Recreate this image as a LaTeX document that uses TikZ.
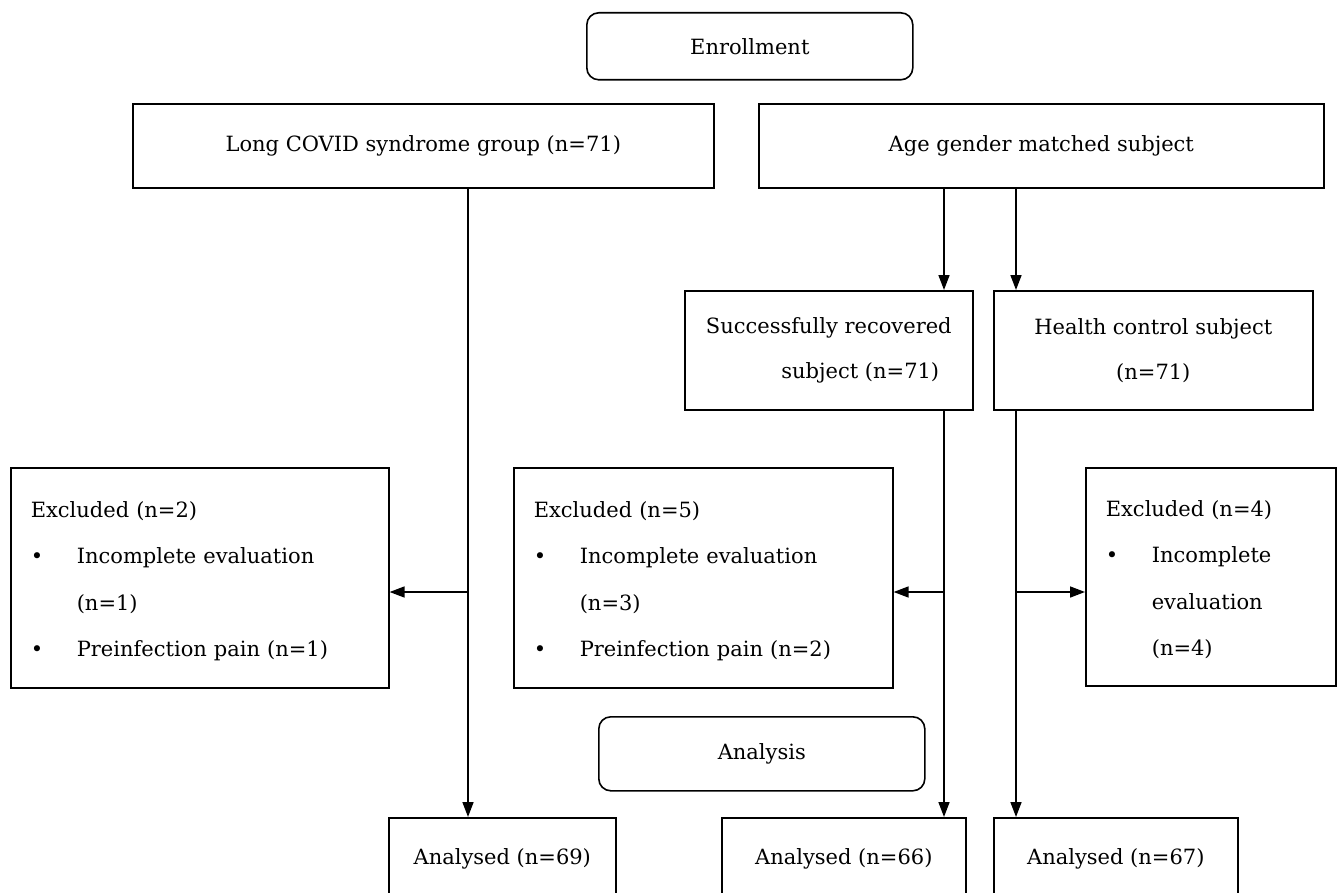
\documentclass[tikz,border=0pt]{standalone}
\usepackage{fontspec}
\setmainfont{DejaVu Serif}
\usepackage{array}
\usetikzlibrary{arrows.meta}
\newcommand\boxfont{\fontsize{21}{26}\selectfont}
\tikzset{
  box/.style={draw, line width=1.6pt, anchor=north west, align=center, inner sep=0pt, font=\boxfont},
  rbox/.style={box, rounded corners=12pt},
  exbox/.style={box, align=left, inner xsep=20pt},
  arr/.style={line width=1.6pt, -{Triangle[length=15pt,width=11pt]}}
}
\newcommand\exlist[1]{\renewcommand\arraystretch{1.77}\begin{tabular}{@{}p{46pt}@{}l@{}}#1\end{tabular}}

\begin{document}
\begin{tikzpicture}[x=1pt, y=-1pt]
\useasboundingbox (0,0) rectangle (1343,893);

\node[rbox, minimum width=326pt, minimum height=67pt] (enroll) at (586,12) {Enrollment};
\node[box, minimum width=581pt, minimum height=84pt] (longcovid) at (132,103) {Long COVID syndrome group (n=71)};
\node[box, minimum width=565pt, minimum height=84pt] (matched) at (758,103) {Age gender matched subject};

\node[box, minimum width=288pt, minimum height=119pt] (recovered) at (684,290) {Successfully recovered\\[19pt]\hspace*{3em}subject (n=71)};
\node[box, minimum width=319pt, minimum height=119pt] (healthy) at (993,290) {Health control subject\\[19pt](n=71)};

\node[exbox, text width=338pt, minimum height=220pt] (exlong) at (10,467)
  {\exlist{\multicolumn{2}{@{}l}{Excluded (n=2)}\\ \textbullet & Incomplete evaluation\\ & (n=1)\\ \textbullet & Preinfection pain (n=1)}};
\node[exbox, text width=339pt, minimum height=220pt] (exrec) at (513,467)
  {\exlist{\multicolumn{2}{@{}l}{Excluded (n=5)}\\ \textbullet & Incomplete evaluation\\ & (n=3)\\ \textbullet & Preinfection pain (n=2)}};
\node[exbox, text width=210pt, minimum height=218pt] (exhealth) at (1085,467)
  {\exlist{\multicolumn{2}{@{}l}{Excluded (n=4)}\\ \textbullet & Incomplete\\ & evaluation\\ & (n=4)}};

\node[rbox, minimum width=326pt, minimum height=74pt] (analysis) at (598,716) {Analysis};

\node[box, minimum width=227pt, minimum height=83pt] (anlong) at (388,817) {Analysed (n=69)};
\node[box, minimum width=244pt, minimum height=83pt] (anrec) at (721,817) {Analysed (n=66)};
\node[box, minimum width=244pt, minimum height=83pt] (anhealth) at (993,817) {Analysed (n=67)};

\coordinate (xl) at (468,0);
\coordinate (xr) at (944,0);
\coordinate (xh) at (1016,0);
\coordinate (yb) at (0,592);

\draw[arr] (longcovid.south -| xl) -- (anlong.north -| xl);
\draw[arr] (xl |- yb) -- (exlong.east |- yb);

\draw[arr] (matched.south -| xr) -- (recovered.north -| xr);
\draw[arr] (matched.south -| xh) -- (healthy.north -| xh);

\draw[arr] (recovered.south -| xr) -- (anrec.north -| xr);
\draw[arr] (xr |- yb) -- (exrec.east |- yb);

\draw[arr] (healthy.south -| xh) -- (anhealth.north -| xh);
\draw[arr] (xh |- yb) -- (exhealth.west |- yb);
\end{tikzpicture}
\end{document}
